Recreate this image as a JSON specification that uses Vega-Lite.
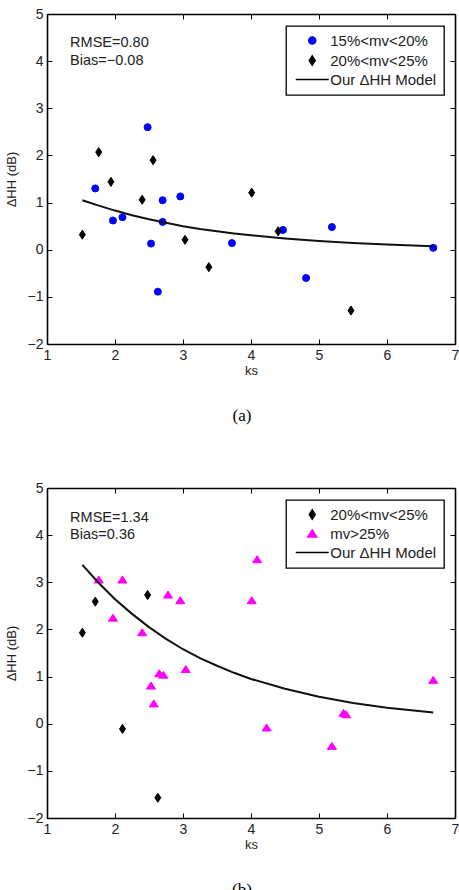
{
  "$schema": "https://vega.github.io/schema/vega-lite/v6.json",
  "padding": {"left": 5, "top": 7, "right": 0, "bottom": 0},
  "background": "white",
  "bounds": "flush",
  "spacing": 144,
  "resolve": {"scale": {"fill": "independent", "stroke": "independent", "shape": "independent"}},
  "config": {
    "view": {"stroke": null},
    "font": "Liberation Sans",
    "axis": {
      "grid": false,
      "domainColor": "#000",
      "domainWidth": 1.6,
      "tickColor": "#000",
      "tickSize": -5,
      "tickWidth": 1,
      "labelFont": "Liberation Sans",
      "labelFontSize": 14,
      "labelColor": "#222",
      "labelPadding": 9,
      "labelFlush": false,
      "labelOverlap": false,
      "titleFont": "Liberation Sans",
      "titleFontWeight": "normal",
      "titleColor": "#222",
      "titleFontSize": 13
    },
    "legend": {
      "orient": "none",
      "legendX": 239,
      "legendY": 12,
      "title": null,
      "padding": 7,
      "strokeColor": "#000",
      "strokeWidth": 1.3,
      "fillColor": "white",
      "labelFont": "Liberation Sans",
      "labelFontSize": 15,
      "labelColor": "#222",
      "labelLimit": 300,
      "rowPadding": 3,
      "symbolSize": 49,
      "symbolStrokeWidth": 1.5,
      "symbolOffset": 11.75,
      "labelOffset": 10.5
    },
    "title": {"font": "Liberation Serif", "fontSize": 17, "fontWeight": "normal", "color": "#000"}
  },
  "datasets": {
    "a_points": [
      {"ks": 2.48, "dHH": 2.60, "group": "15%<mv<20%"},
      {"ks": 1.71, "dHH": 1.30, "group": "15%<mv<20%"},
      {"ks": 2.70, "dHH": 1.05, "group": "15%<mv<20%"},
      {"ks": 2.96, "dHH": 1.13, "group": "15%<mv<20%"},
      {"ks": 1.97, "dHH": 0.62, "group": "15%<mv<20%"},
      {"ks": 2.11, "dHH": 0.69, "group": "15%<mv<20%"},
      {"ks": 2.70, "dHH": 0.59, "group": "15%<mv<20%"},
      {"ks": 2.53, "dHH": 0.13, "group": "15%<mv<20%"},
      {"ks": 2.63, "dHH": -0.89, "group": "15%<mv<20%"},
      {"ks": 3.72, "dHH": 0.14, "group": "15%<mv<20%"},
      {"ks": 4.47, "dHH": 0.42, "group": "15%<mv<20%"},
      {"ks": 5.19, "dHH": 0.48, "group": "15%<mv<20%"},
      {"ks": 6.68, "dHH": 0.04, "group": "15%<mv<20%"},
      {"ks": 4.81, "dHH": -0.60, "group": "15%<mv<20%"},
      {"ks": 1.76, "dHH": 2.07, "group": "20%<mv<25%"},
      {"ks": 2.56, "dHH": 1.90, "group": "20%<mv<25%"},
      {"ks": 1.94, "dHH": 1.44, "group": "20%<mv<25%"},
      {"ks": 2.40, "dHH": 1.06, "group": "20%<mv<25%"},
      {"ks": 1.52, "dHH": 0.32, "group": "20%<mv<25%"},
      {"ks": 3.03, "dHH": 0.21, "group": "20%<mv<25%"},
      {"ks": 3.38, "dHH": -0.37, "group": "20%<mv<25%"},
      {"ks": 4.01, "dHH": 1.21, "group": "20%<mv<25%"},
      {"ks": 4.40, "dHH": 0.39, "group": "20%<mv<25%"},
      {"ks": 5.47, "dHH": -1.29, "group": "20%<mv<25%"}
    ],
    "a_model": [
      {"ks": 1.52, "dHH": 1.05}, {"ks": 1.75, "dHH": 0.94}, {"ks": 2.0, "dHH": 0.83},
      {"ks": 2.25, "dHH": 0.73}, {"ks": 2.5, "dHH": 0.645}, {"ks": 2.75, "dHH": 0.57},
      {"ks": 3.0, "dHH": 0.50}, {"ks": 3.25, "dHH": 0.44}, {"ks": 3.5, "dHH": 0.39},
      {"ks": 3.75, "dHH": 0.345}, {"ks": 4.0, "dHH": 0.305}, {"ks": 4.5, "dHH": 0.24},
      {"ks": 5.0, "dHH": 0.185}, {"ks": 5.5, "dHH": 0.145}, {"ks": 6.0, "dHH": 0.11},
      {"ks": 6.68, "dHH": 0.075}
    ],
    "a_text": [
      {"ks": 1.34, "dHH": 4.38, "label": "RMSE=0.80"},
      {"ks": 1.34, "dHH": 4.0, "label": "Bias=−0.08"}
    ],
    "b_points": [
      {"ks": 1.52, "dHH": 1.93, "group": "20%<mv<25%"},
      {"ks": 1.71, "dHH": 2.59, "group": "20%<mv<25%"},
      {"ks": 2.48, "dHH": 2.73, "group": "20%<mv<25%"},
      {"ks": 2.11, "dHH": -0.11, "group": "20%<mv<25%"},
      {"ks": 2.63, "dHH": -1.57, "group": "20%<mv<25%"},
      {"ks": 1.76, "dHH": 3.06, "group": "mv>25%"},
      {"ks": 2.11, "dHH": 3.06, "group": "mv>25%"},
      {"ks": 1.97, "dHH": 2.25, "group": "mv>25%"},
      {"ks": 2.40, "dHH": 1.94, "group": "mv>25%"},
      {"ks": 2.78, "dHH": 2.74, "group": "mv>25%"},
      {"ks": 2.96, "dHH": 2.62, "group": "mv>25%"},
      {"ks": 3.04, "dHH": 1.16, "group": "mv>25%"},
      {"ks": 2.65, "dHH": 1.07, "group": "mv>25%"},
      {"ks": 2.71, "dHH": 1.04, "group": "mv>25%"},
      {"ks": 4.09, "dHH": 3.49, "group": "mv>25%"},
      {"ks": 4.01, "dHH": 2.62, "group": "mv>25%"},
      {"ks": 2.53, "dHH": 0.81, "group": "mv>25%"},
      {"ks": 2.57, "dHH": 0.43, "group": "mv>25%"},
      {"ks": 6.68, "dHH": 0.93, "group": "mv>25%"},
      {"ks": 4.23, "dHH": -0.08, "group": "mv>25%"},
      {"ks": 5.19, "dHH": -0.47, "group": "mv>25%"},
      {"ks": 5.36, "dHH": 0.23, "group": "mv>25%"},
      {"ks": 5.40, "dHH": 0.20, "group": "mv>25%"}
    ],
    "b_model": [
      {"ks": 1.52, "dHH": 3.37}, {"ks": 1.75, "dHH": 3.0}, {"ks": 2.0, "dHH": 2.64},
      {"ks": 2.25, "dHH": 2.33}, {"ks": 2.5, "dHH": 2.05}, {"ks": 2.75, "dHH": 1.80},
      {"ks": 3.0, "dHH": 1.58}, {"ks": 3.25, "dHH": 1.39}, {"ks": 3.5, "dHH": 1.23},
      {"ks": 3.75, "dHH": 1.08}, {"ks": 4.0, "dHH": 0.95}, {"ks": 4.5, "dHH": 0.74},
      {"ks": 5.0, "dHH": 0.57}, {"ks": 5.5, "dHH": 0.44}, {"ks": 6.0, "dHH": 0.34},
      {"ks": 6.68, "dHH": 0.24}
    ],
    "b_text": [
      {"ks": 1.34, "dHH": 4.37, "label": "RMSE=1.34"},
      {"ks": 1.34, "dHH": 4.0, "label": "Bias=0.36"}
    ]
  },
  "vconcat": [
    {
      "width": 408,
      "height": 330,
      "title": {"text": "(a)", "orient": "bottom", "frame": "group", "offset": 31, "dx": -9},
      "resolve": {"axis": {"x": "independent", "y": "independent"}},
      "layer": [
        {
          "data": {"name": "a_points"},
          "mark": {"type": "point", "filled": true, "opacity": 1, "size": 49, "strokeWidth": 1},
          "encoding": {
            "x": {"field": "ks", "type": "quantitative", "scale": {"domain": [1, 7], "nice": false, "zero": false},
                  "axis": {"orient": "bottom", "values": [1, 2, 3, 4, 5, 6, 7], "format": "d", "title": "ks", "titlePadding": 2}},
            "y": {"field": "dHH", "type": "quantitative", "scale": {"domain": [-2, 5], "nice": false, "zero": false},
                  "axis": {"orient": "left", "values": [-2, -1, 0, 1, 2, 3, 4, 5], "format": "d", "title": "ΔHH (dB)", "titlePadding": 9}},
            "fill": {"field": "group", "type": "nominal",
                     "scale": {"domain": ["15%<mv<20%", "20%<mv<25%", "Our ΔHH Model"], "range": ["#0000ff", "#000000", "transparent"]}},
            "stroke": {"field": "group", "type": "nominal",
                       "scale": {"domain": ["15%<mv<20%", "20%<mv<25%", "Our ΔHH Model"], "range": ["#0000ff", "#000000", "#000000"]}},
            "shape": {"field": "group", "type": "nominal",
                      "scale": {"domain": ["15%<mv<20%", "20%<mv<25%", "Our ΔHH Model"], "range": ["circle", "M0,-1.3L0.85,0L0,1.3L-0.85,0Z", "M-4.71,0L4.71,0"]}}
          }
        },
        {
          "data": {"name": "a_model"},
          "mark": {"type": "line", "color": "#111", "strokeWidth": 2},
          "encoding": {
            "x": {"field": "ks", "type": "quantitative", "scale": {"domain": [1, 7], "nice": false, "zero": false},
                  "axis": {"orient": "top", "values": [1, 2, 3, 4, 5, 6, 7], "labels": false, "title": null}},
            "y": {"field": "dHH", "type": "quantitative", "scale": {"domain": [-2, 5], "nice": false, "zero": false},
                  "axis": {"orient": "right", "values": [-2, -1, 0, 1, 2, 3, 4, 5], "labels": false, "title": null}}
          }
        },
        {
          "data": {"name": "a_text"},
          "mark": {"type": "text", "align": "left", "baseline": "middle", "fontSize": 14.5, "color": "#222", "font": "Liberation Sans"},
          "encoding": {
            "x": {"field": "ks", "type": "quantitative", "scale": {"domain": [1, 7], "nice": false, "zero": false}, "axis": null},
            "y": {"field": "dHH", "type": "quantitative", "scale": {"domain": [-2, 5], "nice": false, "zero": false}, "axis": null},
            "text": {"field": "label", "type": "nominal"}
          }
        }
      ]
    },
    {
      "width": 408,
      "height": 330,
      "title": {"text": "(b)", "orient": "bottom", "frame": "group", "offset": 31, "dx": -9},
      "resolve": {"axis": {"x": "independent", "y": "independent"}},
      "layer": [
        {
          "data": {"name": "b_points"},
          "mark": {"type": "point", "filled": true, "opacity": 1, "size": 49, "strokeWidth": 1},
          "encoding": {
            "x": {"field": "ks", "type": "quantitative", "scale": {"domain": [1, 7], "nice": false, "zero": false},
                  "axis": {"orient": "bottom", "values": [1, 2, 3, 4, 5, 6, 7], "format": "d", "title": "ks", "titlePadding": 2}},
            "y": {"field": "dHH", "type": "quantitative", "scale": {"domain": [-2, 5], "nice": false, "zero": false},
                  "axis": {"orient": "left", "values": [-2, -1, 0, 1, 2, 3, 4, 5], "format": "d", "title": "ΔHH (dB)", "titlePadding": 9}},
            "fill": {"field": "group", "type": "nominal",
                     "scale": {"domain": ["20%<mv<25%", "mv>25%", "Our ΔHH Model"], "range": ["#000000", "#ff00ff", "transparent"]}},
            "stroke": {"field": "group", "type": "nominal",
                       "scale": {"domain": ["20%<mv<25%", "mv>25%", "Our ΔHH Model"], "range": ["#000000", "#ff00ff", "#000000"]}},
            "shape": {"field": "group", "type": "nominal",
                      "scale": {"domain": ["20%<mv<25%", "mv>25%", "Our ΔHH Model"], "range": ["M0,-1.3L0.85,0L0,1.3L-0.85,0Z", "M0,-1L1.3,1L-1.3,1Z", "M-4.71,0L4.71,0"]}}
          }
        },
        {
          "data": {"name": "b_model"},
          "mark": {"type": "line", "color": "#111", "strokeWidth": 2},
          "encoding": {
            "x": {"field": "ks", "type": "quantitative", "scale": {"domain": [1, 7], "nice": false, "zero": false},
                  "axis": {"orient": "top", "values": [1, 2, 3, 4, 5, 6, 7], "labels": false, "title": null}},
            "y": {"field": "dHH", "type": "quantitative", "scale": {"domain": [-2, 5], "nice": false, "zero": false},
                  "axis": {"orient": "right", "values": [-2, -1, 0, 1, 2, 3, 4, 5], "labels": false, "title": null}}
          }
        },
        {
          "data": {"name": "b_text"},
          "mark": {"type": "text", "align": "left", "baseline": "middle", "fontSize": 14.5, "color": "#222", "font": "Liberation Sans"},
          "encoding": {
            "x": {"field": "ks", "type": "quantitative", "scale": {"domain": [1, 7], "nice": false, "zero": false}, "axis": null},
            "y": {"field": "dHH", "type": "quantitative", "scale": {"domain": [-2, 5], "nice": false, "zero": false}, "axis": null},
            "text": {"field": "label", "type": "nominal"}
          }
        }
      ]
    }
  ]
}
